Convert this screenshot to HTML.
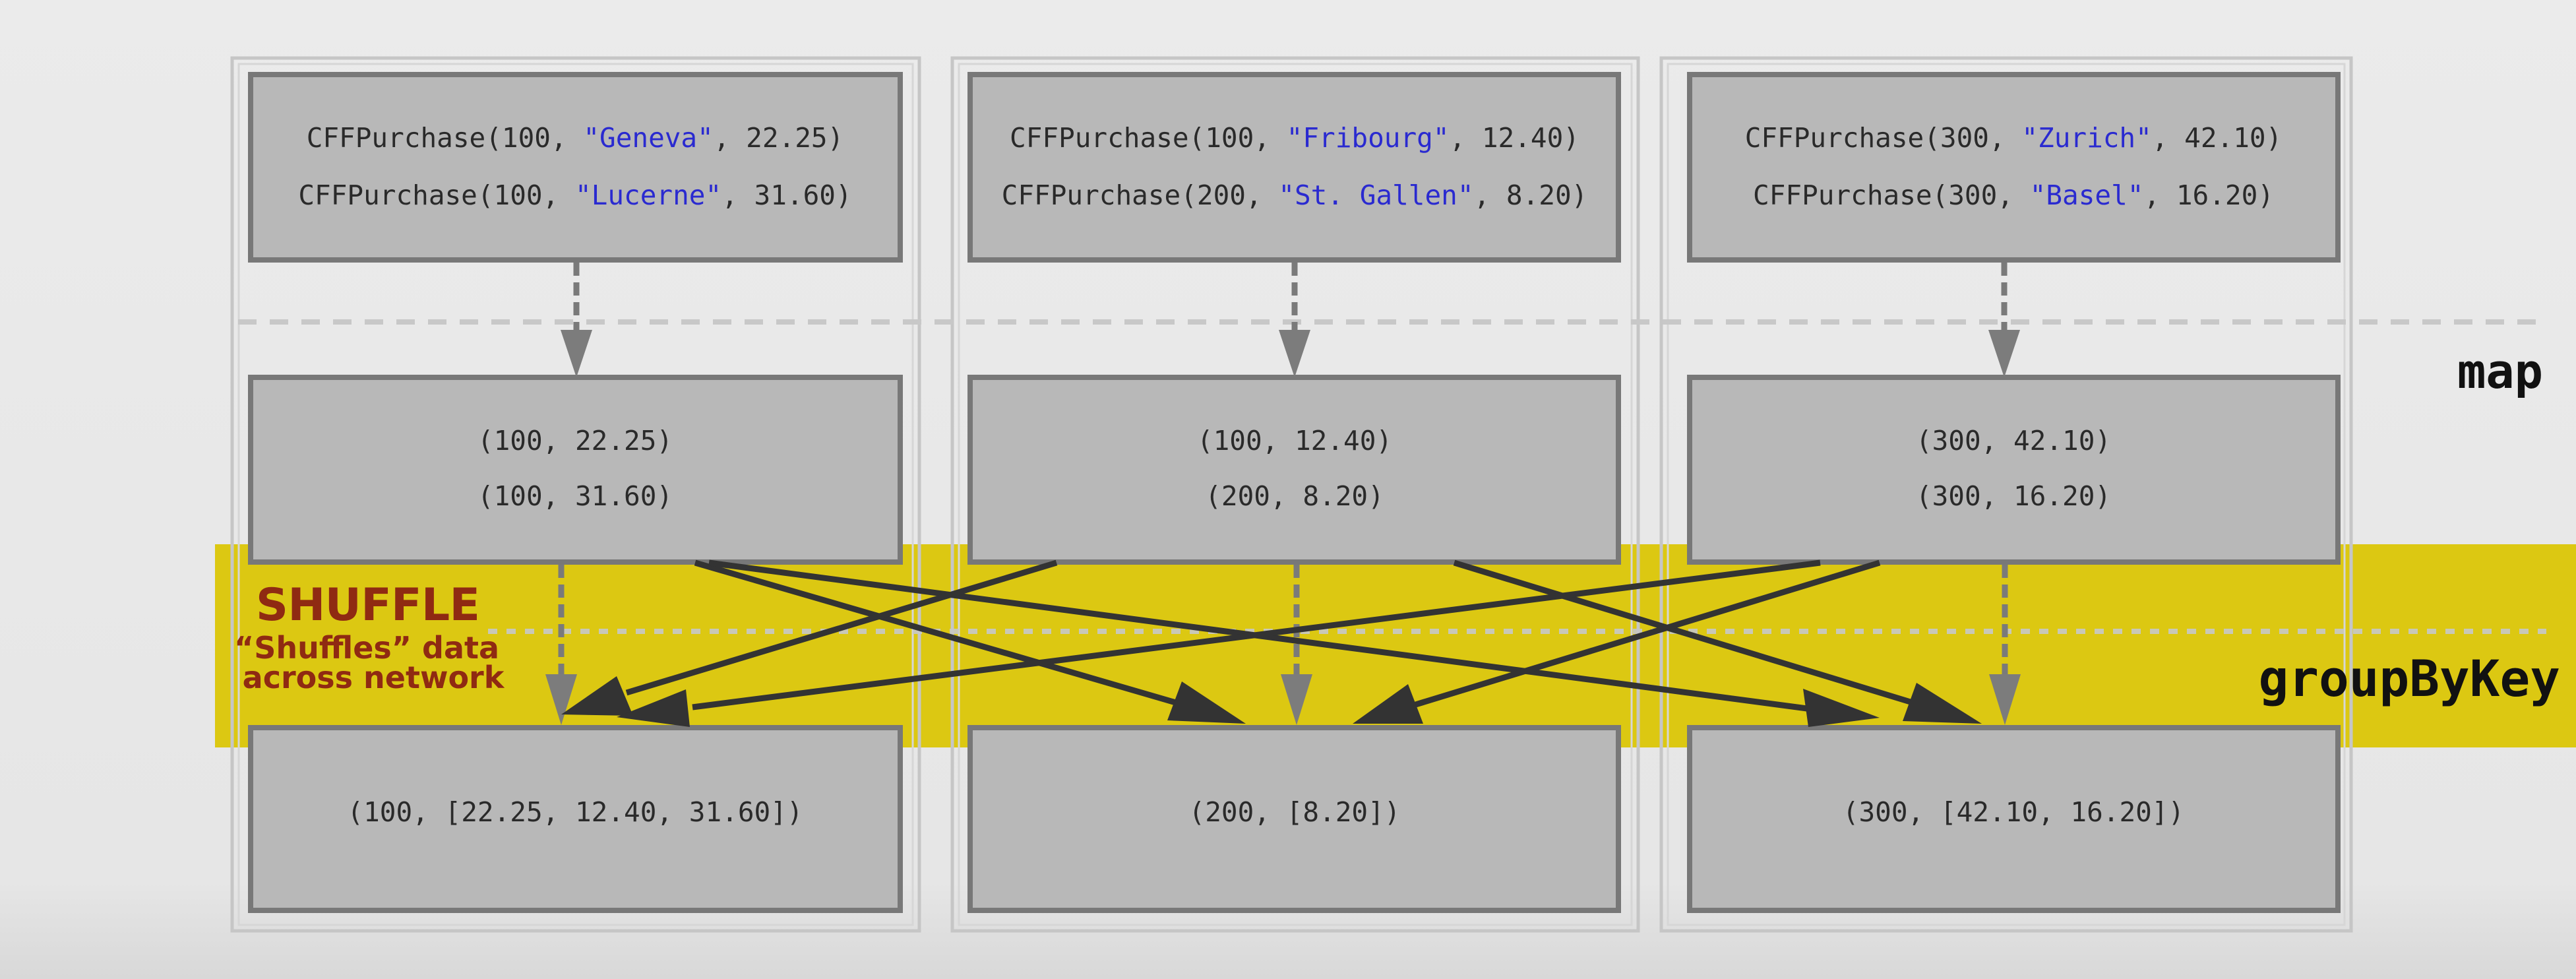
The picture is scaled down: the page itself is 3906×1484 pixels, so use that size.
<!DOCTYPE html>
<html><head><meta charset="utf-8"><style>
html,body{margin:0;padding:0;}
body{width:3906px;height:1484px;overflow:hidden;background:#e8e8e8;}
svg{display:block;}
.m{font-family:"DejaVu Sans Mono","Liberation Mono",monospace;font-size:41px;fill:#2a2a2a;}
.b{fill:#2a2ad0;}
</style></head><body>
<svg width="3906" height="1484" viewBox="0 0 3906 1484" xmlns="http://www.w3.org/2000/svg">
<defs>
<linearGradient id="bg" x1="0" y1="0" x2="0" y2="1"><stop offset="0" stop-color="#ebebeb"/><stop offset="0.9" stop-color="#e6e6e6"/><stop offset="1" stop-color="#d8d8d8"/></linearGradient>
</defs>
<rect width="3906" height="1484" fill="url(#bg)"/>
<rect x="326" y="825" width="3580" height="308" fill="#dcc812"/>
<g fill="none" stroke="#c6c6c6" stroke-width="5">
<rect x="352" y="88" width="1042" height="1323"/>
<rect x="1444" y="88" width="1040" height="1323"/>
<rect x="2519" y="88" width="1046" height="1323"/>
</g>
<g fill="none" stroke="#d6d6d6" stroke-width="3">
<rect x="362" y="97" width="1022" height="1305"/>
<rect x="1454" y="97" width="1020" height="1305"/>
<rect x="2529" y="97" width="1026" height="1305"/>
</g>
<line x1="361" y1="488" x2="3861" y2="488" stroke="#c8c8c8" stroke-width="8" stroke-dasharray="28,20"/>
<line x1="740" y1="957" x2="3861" y2="957" stroke="#c8c8c8" stroke-width="8" stroke-dasharray="14,14" opacity="0.9"/>
<g fill="#b8b8b8" stroke="#787878" stroke-width="8">
<rect x="380" y="113" width="985" height="281"/>
<rect x="1471" y="113" width="983" height="281"/>
<rect x="2562" y="113" width="983" height="281"/>
<rect x="380" y="572" width="985" height="280"/>
<rect x="1471" y="572" width="983" height="280"/>
<rect x="2562" y="572" width="983" height="280"/>
<rect x="380" y="1103" width="985" height="277"/>
<rect x="1471" y="1103" width="983" height="277"/>
<rect x="2562" y="1103" width="983" height="277"/>
</g>
<g class="m" text-anchor="middle">
<text x="872" y="223">CFFPurchase(100, <tspan class="b">"Geneva"</tspan>, 22.25)</text>
<text x="872" y="310">CFFPurchase(100, <tspan class="b">"Lucerne"</tspan>, 31.60)</text>
<text x="1963" y="223">CFFPurchase(100, <tspan class="b">"Fribourg"</tspan>, 12.40)</text>
<text x="1963" y="310">CFFPurchase(200, <tspan class="b">"St. Gallen"</tspan>, 8.20)</text>
<text x="3053" y="223">CFFPurchase(300, <tspan class="b">"Zurich"</tspan>, 42.10)</text>
<text x="3053" y="310">CFFPurchase(300, <tspan class="b">"Basel"</tspan>, 16.20)</text>
<text x="872" y="682">(100, 22.25)</text>
<text x="872" y="766">(100, 31.60)</text>
<text x="1963" y="682">(100, 12.40)</text>
<text x="1963" y="766">(200, 8.20)</text>
<text x="3053" y="682">(300, 42.10)</text>
<text x="3053" y="766">(300, 16.20)</text>
<text x="872" y="1245">(100, [22.25, 12.40, 31.60])</text>
<text x="1963" y="1245">(200, [8.20])</text>
<text x="3053" y="1245">(300, [42.10, 16.20])</text>
</g>
<g stroke="#7a7a7a" stroke-width="9" stroke-dasharray="20,10">
<line x1="874" y1="398" x2="874" y2="505"/>
<line x1="1963" y1="398" x2="1963" y2="505"/>
<line x1="3039" y1="398" x2="3039" y2="505"/>
<line x1="851" y1="856" x2="851" y2="1030"/>
<line x1="1966" y1="856" x2="1966" y2="1030"/>
<line x1="3040" y1="856" x2="3040" y2="1030"/>
</g>
<g fill="#7c7c7c">
<polygon points="850,500 898,500 874,572"/>
<polygon points="1939,500 1987,500 1963,572"/>
<polygon points="3015,500 3063,500 3039,572"/>
<polygon points="827,1022 875,1022 851,1099"/>
<polygon points="1942,1022 1990,1022 1966,1099"/>
<polygon points="3016,1022 3064,1022 3040,1099"/>
</g>
<g stroke="#333" stroke-width="9" fill="none">
<line x1="1054" y1="853" x2="1800" y2="1070"/>
<line x1="1075" y1="853" x2="2740" y2="1074"/>
<line x1="2205" y1="853" x2="2900" y2="1065"/>
<line x1="2850" y1="853" x2="2140" y2="1070"/>
<line x1="1602" y1="853" x2="950" y2="1050"/>
<line x1="2760" y1="853" x2="1050" y2="1072"/>
</g>
<g fill="#333">
<polygon points="1889,1097 1770,1092 1792,1033"/>
<polygon points="2850,1088 2742,1102 2734,1044"/>
<polygon points="3005,1097 2885,1093 2906,1035"/>
<polygon points="2051,1097 2135,1037 2158,1097"/>
<polygon points="851,1083 935,1025 960,1085"/>
<polygon points="935,1087 1040,1045 1046,1102"/>
</g>
<text x="3856" y="588" text-anchor="end" font-family="DejaVu Sans Mono,monospace" font-weight="bold" font-size="72" fill="#111">map</text>
<text x="3882" y="1055" text-anchor="end" font-family="DejaVu Sans Mono,monospace" font-weight="bold" font-size="76" fill="#111">groupByKey</text>
<g font-family="DejaVu Sans,Liberation Sans,sans-serif" font-weight="bold" fill="#8f2a12" text-anchor="middle">
<text x="558" y="940" font-size="68" textLength="340">SHUFFLE</text>
<text x="556" y="998" font-size="46">“Shuffles” data</text>
<text x="566" y="1043" font-size="46">across network</text>
</g>
</svg>
</body></html>
